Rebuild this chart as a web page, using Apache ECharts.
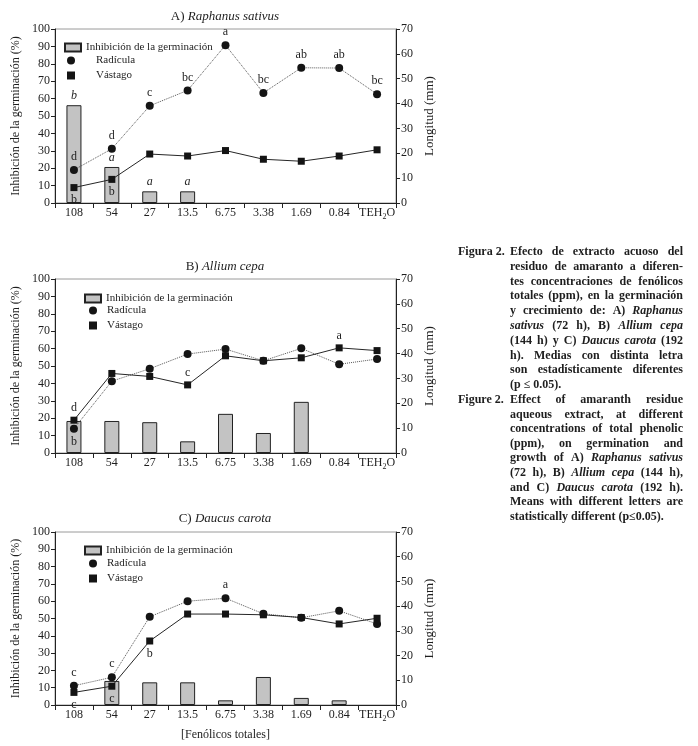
<!DOCTYPE html>
<html><head><meta charset="utf-8">
<script src="https://cdn.jsdelivr.net/npm/echarts@6/dist/echarts.min.js"></script>
<style>html,body{margin:0;padding:0;background:#fff}#c{width:698px;height:746px}</style>
</head><body><div id="c"></div>
<script>
// ---------- DATA ----------
const categories = ['108','54','27','13.5','6.75','3.38','1.69','0.84','TEH2O'];
const leftAxisMax = 100, leftAxisStep = 10;
const rightAxisMax = 70, rightAxisStep = 10;

// A) Raphanus sativus
const inhibA = [56.2, 20.7, 6.7, 6.7, 0, 0, 0, 0, 0];
const inhibLettersA = ['b','a','a','a','','','','',''];
const radA = [13.3, 21.8, 39.1, 45.3, 63.5, 44.3, 54.4, 54.3, 43.8];
const radAboveA = ['d','d','c','bc','a','bc','ab','ab','bc'];
const radBelowA = ['','','','','','','','',''];
const vasA = [6.2, 9.5, 19.7, 18.9, 21.1, 17.6, 16.8, 18.9, 21.4];
const vasAboveA = ['','','','','','','','',''];
const vasBelowA = ['b','b','','','','','','',''];

// B) Allium cepa
const inhibB = [18.4, 18.4, 17.7, 6.7, 22.5, 11.5, 29.4, 0, 0];
const inhibLettersB = ['','','','','','','','',''];
const radB = [9.8, 28.9, 33.9, 39.8, 41.8, 37.1, 42.1, 35.7, 37.8];
const radAboveB = ['','','','','','','','',''];
const radBelowB = ['b','','','','','','','',''];
const vasB = [13.2, 32.0, 30.8, 27.4, 39.1, 37.1, 38.3, 42.3, 41.2];
const vasAboveB = ['d','','','c','','','','a',''];
const vasBelowB = ['','','','','','','','',''];

// C) Daucus carota
const inhibC = [0, 13.9, 13.1, 13.1, 2.7, 16.2, 4.1, 2.7, 0];
const inhibLettersC = ['','','','','','','','',''];
const radC = [7.8, 11.2, 35.7, 42.0, 43.2, 36.9, 35.3, 38.1, 32.8];
const radAboveC = ['c','c','','','a','','','',''];
const radBelowC = ['','','','','','','','',''];
const vasC = [5.1, 7.6, 25.9, 36.8, 36.8, 36.5, 35.4, 32.8, 35.1];
const vasAboveC = ['','','','','','','','',''];
const vasBelowC = ['c','c','b','','','','','',''];

const seriesNames = ['Inhibición de la germinación', 'Radícula', 'Vástago'];
const leftAxisName = 'Inhibición de la germinación (%)';
const rightAxisName = 'Longitud (mm)';
const xAxisName = '[Fenólicos totales]';

const captionEsLabel = 'Figura 2.';
const captionEs = [
 'Efecto de extracto acuoso del',
 'residuo de amaranto a diferen-',
 'tes concentraciones de fenólicos',
 'totales (ppm), en la germinación',
 'y crecimiento de: A) _Raphanus_',
 '_sativus_ (72 h), B) _Allium_ _cepa_',
 '(144 h) y C) _Daucus_ _carota_ (192',
 'h). Medias con distinta letra',
 'son estadísticamente diferentes',
 '(p ≤ 0.05).'
];
const captionEnLabel = 'Figure 2.';
const captionEn = [
 'Effect of amaranth residue',
 'aqueous extract, at different',
 'concentrations of total phenolic',
 '(ppm), on germination and',
 'growth of A) _Raphanus_ _sativus_',
 '(72 h), B) _Allium_ _cepa_ (144 h),',
 'and C) _Daucus_ _carota_ (192 h).',
 'Means with different letters are',
 'statistically different (p≤0.05).'
];

// ---------- LAYOUT / STYLE ----------
const FF = '"Liberation Serif", "Times New Roman", serif';
const TXT = '#1e1e1e';
const panels = [
  {top:29, height:174, label:'A) ', species:'Raphanus sativus', inhib:inhibA, inhibLetters:inhibLettersA,
   rad:radA, radAbove:radAboveA, radBelow:radBelowA, vas:vasA, vasAbove:vasAboveA, vasBelow:vasBelowA,
   titleTop:10, legBar:{left:64, top:42}, legLine:{left:67, top:55}, spacer:16},
  {top:279, height:174, label:'B) ', species:'Allium cepa', inhib:inhibB, inhibLetters:inhibLettersB,
   rad:radB, radAbove:radAboveB, radBelow:radBelowB, vas:vasB, vasAbove:vasAboveB, vasBelow:vasBelowB,
   titleTop:260, legBar:{left:84, top:293}, legLine:{left:89, top:305}, spacer:5},
  {top:532, height:173, label:'C) ', species:'Daucus carota', inhib:inhibC, inhibLetters:inhibLettersC,
   rad:radC, radAbove:radAboveC, radBelow:radBelowC, vas:vasC, vasAbove:vasAboveC, vasBelow:vasBelowC,
   titleTop:512, legBar:{left:84, top:545}, legLine:{left:89, top:558}, spacer:5}
];

function pts(vals, above, below) {
  return vals.map((v, i) => ({
    value: v,
    label: above[i] ? {show:true, position:'top', formatter: above[i], distance:3}
         : below[i] ? {show:true, position:'bottom', formatter: below[i], distance:3}
         : {show:false}
  }));
}

const option = {
  animation: false,
  backgroundColor: '#fff',
  textStyle: {fontFamily: FF, color: TXT},
  title: [], grid: [], xAxis: [], yAxis: [], series: [], legend: [], graphic: []
};

panels.forEach((p, i) => {
  option.title.push({
    text: '{n|' + p.label + '}{i|' + p.species + '}',
    left: 225, top: p.titleTop, textAlign: 'center', padding: 0,
    textStyle: {fontWeight:'normal', rich: {
      n: {fontFamily: FF, fontSize: 13, color: TXT, fontWeight:'normal'},
      i: {fontFamily: FF, fontSize: 13, color: TXT, fontWeight:'normal', fontStyle: 'italic'}
    }}
  });
  option.grid.push({left:55, width:341, top:p.top, height:p.height, show:true,
    borderColor:'#9a9a9a', borderWidth:1, backgroundColor:'transparent'});
  option.xAxis.push({
    type:'category', gridIndex:i, data:categories, boundaryGap:true,
    axisLine:{lineStyle:{color:'#222', width:1}},
    axisTick:{show:true, length:5, lineStyle:{color:'#222'}},
    axisLabel:{
      fontFamily:FF, fontSize:12, color:TXT, margin:2, interval:0,
      formatter: v => v === 'TEH2O' ? '{m|TEH}{s|2}{m|O}' : '{m|' + v + '}',
      rich:{
        m:{fontFamily:FF, fontSize:12, color:TXT, lineHeight:16, verticalAlign:'middle'},
        s:{fontFamily:FF, fontSize:8, color:TXT, lineHeight:16, verticalAlign:'bottom'}
      }
    },
    name: i === 2 ? xAxisName : '', nameLocation:'middle', nameGap:24,
    nameTextStyle:{fontFamily:FF, fontSize:12, color:TXT}
  });
  option.yAxis.push({
    type:'value', gridIndex:i, min:0, max:leftAxisMax, interval:leftAxisStep, position:'left',
    splitLine:{show:false},
    axisLine:{show:true, lineStyle:{color:'#222'}},
    axisTick:{show:true, length:4, lineStyle:{color:'#222'}},
    axisLabel:{fontFamily:FF, fontSize:12, color:TXT, margin:5},
    name:leftAxisName, nameLocation:'middle', nameGap:33, nameRotate:90,
    nameTextStyle:{fontFamily:FF, fontSize:12, color:TXT}
  });
  option.yAxis.push({
    type:'value', gridIndex:i, min:0, max:rightAxisMax, interval:rightAxisStep, position:'right',
    splitLine:{show:false},
    axisLine:{show:true, lineStyle:{color:'#222'}},
    axisTick:{show:true, length:4, lineStyle:{color:'#222'}},
    axisLabel:{fontFamily:FF, fontSize:12, color:TXT, margin:5},
    name:rightAxisName, nameLocation:'middle', nameGap:27, nameRotate:90,
    nameTextStyle:{fontFamily:FF, fontSize:13, color:TXT}
  });
  option.series.push({
    type:'bar', name:seriesNames[0], xAxisIndex:i, yAxisIndex:2*i, barWidth:15, z:1,
    itemStyle:{color:'#c3c3c3', borderColor:'#222', borderWidth:1},
    label:{fontFamily:FF, fontSize:12, color:TXT, fontStyle:'italic'},
    data: p.inhib.map((v, k) => ({
      value: v === 0 ? '-' : v,
      label: p.inhibLetters[k] ? {show:true, position:'top', formatter:p.inhibLetters[k], distance:3} : {show:false}
    }))
  });
  option.series.push({
    type:'line', name:seriesNames[1], xAxisIndex:i, yAxisIndex:2*i+1, z:3,
    symbol:'circle', symbolSize:8, itemStyle:{color:'#141414'},
    lineStyle:{color:'#555', width:1, type:'dotted'},
    label:{fontFamily:FF, fontSize:12, color:TXT},
    data: pts(p.rad, p.radAbove, p.radBelow)
  });
  option.series.push({
    type:'line', name:seriesNames[2], xAxisIndex:i, yAxisIndex:2*i+1, z:4,
    symbol:'rect', symbolSize:7, itemStyle:{color:'#141414'},
    lineStyle:{color:'#262626', width:1, type:'solid'},
    label:{fontFamily:FF, fontSize:12, color:TXT},
    data: pts(p.vas, p.vasAbove, p.vasBelow)
  });
  option.legend.push({
    left:p.legBar.left, top:p.legBar.top, orient:'vertical', padding:0, selectedMode:false,
    itemWidth:16, itemHeight:8,
    data:[{name:seriesNames[0], icon:'rect'}],
    textStyle:{fontFamily:FF, fontSize:11, color:TXT}
  });
  option.legend.push({
    left:p.legLine.left, top:p.legLine.top, orient:'vertical', padding:0, selectedMode:false,
    itemWidth:8, itemHeight:8, itemGap:4,
    data:[{name:seriesNames[1], icon:'circle'}, {name:seriesNames[2], icon:'rect'}],
    formatter:'{sp|}{name}',
    textStyle:{fontFamily:FF, fontSize:11, color:TXT, rich:{sp:{width:p.spacer}}}
  });
});

// ---------- CAPTION (justified text) ----------
const cv = document.createElement('canvas').getContext('2d');
const CAP_SIZE = 12;
function capFont(italic) { return (italic ? 'italic ' : '') + 'bold ' + CAP_SIZE + 'px ' + FF; }
function measure(t, italic) { cv.font = capFont(italic); return cv.measureText(t).width; }
const capLeft = 458, bodyLeft = 510, bodyRight = 683;
function addCaption(label, lines, y0, dy) {
  option.graphic.push({type:'text', x:capLeft, y:y0,
    style:{text:label, font:capFont(false), fill:TXT, textAlign:'left', textVerticalAlign:'middle'}});
  lines.forEach((ln, li) => {
    const words = ln.split(' ').filter(Boolean).map(w => {
      const it = /^_.*_$/.test(w);
      const t = it ? w.slice(1, -1) : w;
      return {t, it, w: measure(t, it)};
    });
    const sum = words.reduce((a, b) => a + b.w, 0);
    const last = li === lines.length - 1;
    const gap = (last || words.length < 2) ? measure(' ', false) : (bodyRight - bodyLeft - sum) / (words.length - 1);
    let x = bodyLeft;
    const y = y0 + li * dy;
    words.forEach(wd => {
      option.graphic.push({type:'text', x:x, y:y,
        style:{text:wd.t, font:capFont(wd.it), fill:TXT, textAlign:'left', textVerticalAlign:'middle'}});
      x += wd.w + gap;
    });
  });
}
addCaption(captionEsLabel, captionEs, 252, 14.8);
addCaption(captionEnLabel, captionEn, 400, 14.6);

const chart = echarts.init(document.getElementById('c'), null, {renderer:'canvas'});
chart.setOption(option);
</script></body></html>
